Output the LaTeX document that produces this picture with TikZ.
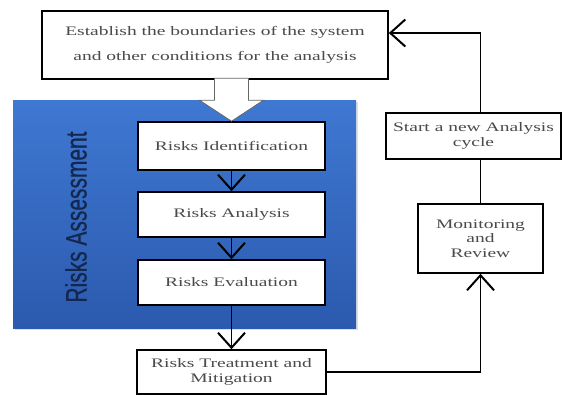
\documentclass[tikz,border=0pt]{standalone}
\usepackage{fontspec}
\setmainfont{Liberation Serif}
\newfontfamily\boxfont[FakeStretch=1.5]{Liberation Serif}
\newfontfamily\assessfont[FakeStretch=0.71,FakeBold=0.6]{Liberation Sans}
\usetikzlibrary{arrows.meta,shadows}
\definecolor{boxtext}{HTML}{4A4A4A}
\definecolor{bluetop}{HTML}{3F78D2}
\definecolor{bluebot}{HTML}{2B5AAE}
\definecolor{assesstext}{HTML}{14284F}

\begin{document}
\begin{tikzpicture}[x=1pt,y=-1pt,
	procbox/.style={draw,line width=1.6pt,fill=white,text=boxtext,align=center,inner sep=0pt,
		font=\boxfont\fontsize{13}{15}\selectfont},
	flow/.style={-{Straight Barb[length=15pt,width=27pt,line width=2pt]},line width=1.6pt},
	hollow/.style={draw=black!60,line width=0.8pt,fill=white}]
	\useasboundingbox (0,0) rectangle (562,394);
	% blue area behind the assessment steps
	\node[top color=bluetop,bottom color=bluebot,drop shadow={opacity=0.25,shadow xshift=2pt,shadow yshift=-2pt},
		minimum width=343pt,minimum height=228pt,inner sep=0pt] (area) at (184.5,214) {};
	\node[rotate=90,text=assesstext,font=\assessfont\fontsize{29.5}{30}\selectfont] (assess) at (76,217) {Risks Assessment};
	\node[procbox,minimum width=346pt,minimum height=68pt,font=\boxfont\fontsize{13}{25}\selectfont] (bounds) at (215,45)
		{Establish the boundaries of the system\\and other conditions for the analysis};
	\node[procbox,minimum width=187pt,minimum height=48pt] (ident) at (231.5,146) {Risks Identification};
	\node[procbox,minimum width=187pt,minimum height=45pt] (analysis) at (231.5,214.5) {Risks Analysis};
	\node[procbox,minimum width=187pt,minimum height=45pt] (eval) at (231.5,282.5) {Risks Evaluation};
	\node[procbox,minimum width=189pt,minimum height=44pt] (treat) at (231.5,372) {Risks Treatment and\\Mitigation};
	\node[procbox,minimum width=175pt,minimum height=46pt] (start) at (473.5,136) {Start a new Analysis\\cycle};
	\node[procbox,minimum width=125pt,minimum height=69pt,font=\boxfont\fontsize{13}{14.5}\selectfont] (monit) at (480.5,238.5)
		{Monitoring\\and\\Review};
	% wide hollow arrow into the assessment
	\coordinate (tip) at (ident.north);
	\draw[hollow] (tip) -- ++(-32,-21) -- ++(15,0) -- ++(0,-22) -- ++(34,0) -- ++(0,22) -- ++(15,0) -- cycle;
	\draw[flow] (ident) -- (analysis);
	\draw[flow] (analysis) -- (eval);
	\draw[flow] (eval) -- (treat);
	\draw[flow] (treat.east) -| (monit.south);
	\draw[line width=1.6pt] (monit.north) -- (monit.north |- start.south);
	\draw[flow] (monit.north |- start.north) |- ([yshift=12pt]bounds.east);
\end{tikzpicture}
\end{document}
